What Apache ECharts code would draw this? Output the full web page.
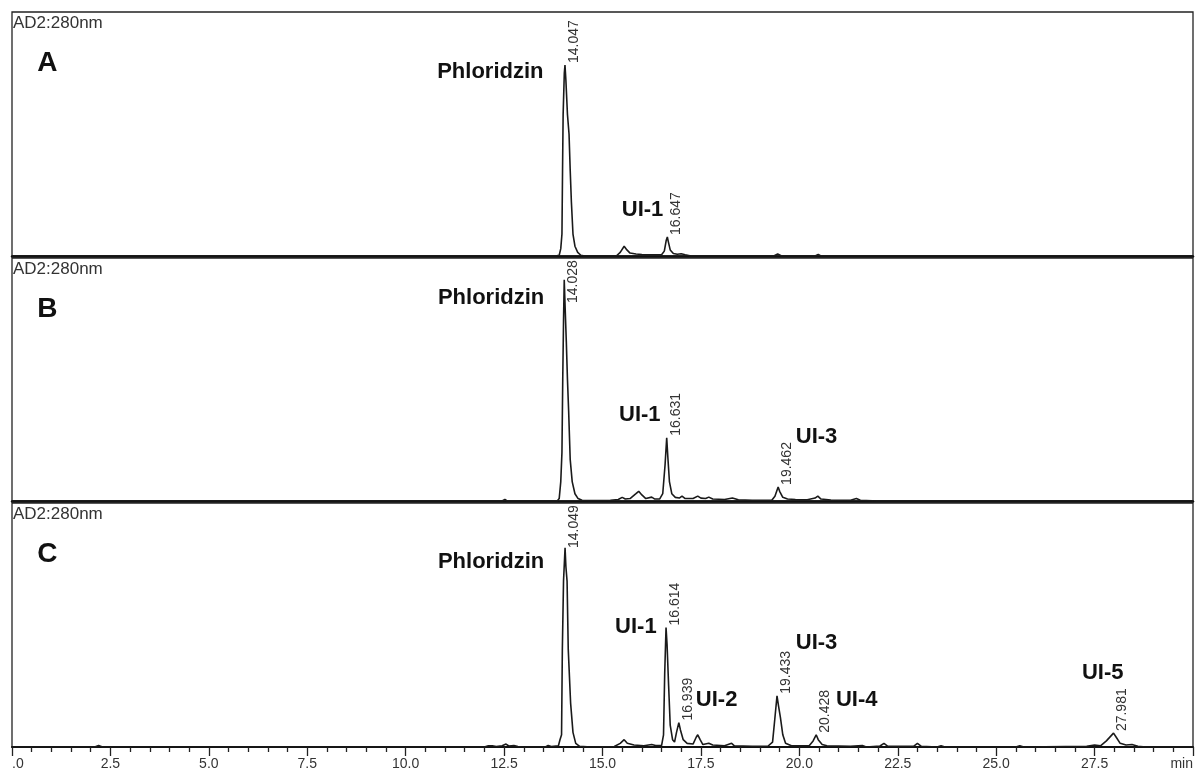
<!DOCTYPE html>
<html>
<head>
<meta charset="utf-8">
<script src="https://cdn.jsdelivr.net/npm/echarts@6/dist/echarts.min.js"></script>
<style>
html,body{margin:0;padding:0;background:#fff;}
#chart{width:1197px;height:777px;}
</style>
</head>
<body>
<div id="chart"></div>
<script>
// ---------- DATA (time in min, relative absorbance 0-100 per panel) ----------
const traceA = [[0,0],[13.80,0],[13.90,0.3],[13.94,3],[13.97,9],[13.985,35],[14.0,58],[14.03,75],[14.047,78.3],[14.07,72],[14.11,58],[14.15,50],[14.18,35],[14.21,22],[14.25,9],[14.30,4],[14.37,1.5],[14.45,0.3],[14.55,0],
[15.35,0],[15.45,1.5],[15.55,4],[15.62,2.5],[15.70,1.2],[15.85,0.8],[16.0,0.6],[16.2,0.5],[16.5,0.5],[16.57,2],[16.62,6.5],[16.647,7.8],[16.67,6],[16.72,2.5],[16.80,1],[16.90,0.7],[17.0,0.9],[17.1,0.5],[17.25,0],
[19.35,0],[19.45,0.8],[19.55,0],[20.40,0],[20.48,0.6],[20.55,0],[30,0]];

const traceB = [[0,0],[12.45,0],[12.52,0.6],[12.58,0],[13.85,0],[13.90,1],[13.94,8],[13.97,20],[13.99,50],[14.01,74],[14.028,91],[14.05,80],[14.08,66],[14.11,50],[14.14,37],[14.18,17],[14.23,8],[14.30,3],[14.38,1],[14.48,0.3],[14.6,0.2],
[15.2,0.3],[15.4,0.6],[15.5,1.5],[15.58,0.8],[15.7,1],[15.85,3],[15.92,4],[16.0,2.5],[16.1,1],[16.25,1.6],[16.33,0.8],[16.45,0.8],[16.53,3],[16.59,15],[16.631,26],[16.66,18],[16.70,8],[16.76,3],[16.85,1.5],[16.95,1.2],[17.02,2],[17.1,1],[17.3,1],[17.42,2],[17.5,1.2],[17.62,1],[17.7,1.6],[17.8,0.8],[18.1,0.6],[18.3,1.2],[18.45,0.5],[18.8,0.3],
[19.3,0.3],[19.38,2],[19.462,5.8],[19.5,4],[19.58,1.5],[19.7,0.8],[19.9,0.6],[20.2,0.5],[20.4,1.2],[20.47,2],[20.55,0.8],[20.8,0.4],[21.3,0.3],[21.45,1],[21.55,0.3],[22,0],[30,0]];

const traceC = [[0,0],[2.1,0],[2.2,0.6],[2.3,0],[12.0,0],[12.1,0.5],[12.2,0.5],[12.3,0.2],[12.45,0.5],[12.55,1.2],[12.62,0.4],[12.75,0.6],[12.85,0.2],[13.0,0],[13.55,0],[13.62,0.6],[13.7,0.2],[13.88,0.5],[13.92,3],[13.96,5],[13.98,40],[14.01,68],[14.049,81.6],[14.07,74],[14.10,68],[14.13,40],[14.19,18],[14.25,6],[14.32,1.5],[14.42,0.3],[14.7,0],
[15.3,0.2],[15.45,1.5],[15.55,3],[15.63,1.5],[15.8,0.8],[16.05,0.5],[16.25,1],[16.35,0.6],[16.5,0.6],[16.55,5],[16.58,30],[16.614,49],[16.64,42],[16.68,25],[16.72,9],[16.78,3],[16.83,2],[16.88,6],[16.939,10],[16.98,7],[17.05,3],[17.15,1.5],[17.3,1.2],[17.38,4],[17.42,5],[17.48,3],[17.55,1],[17.7,1.5],[17.8,0.8],[18.1,0.5],[18.28,1.5],[18.35,0.5],[18.8,0.3],
[19.2,0.3],[19.32,2],[19.38,12],[19.433,21],[19.47,17],[19.52,12],[19.58,5],[19.65,1.5],[19.8,0.5],[20.25,0.5],[20.35,2.5],[20.428,5],[20.48,3],[20.58,1],[20.7,0.5],[21.3,0.3],[21.6,0.6],[21.7,0],[22.05,0.4],[22.15,1.5],[22.25,0.3],[22.9,0.3],[23.0,1.5],[23.1,0.3],[23.5,0],[23.6,0.5],[23.7,0],[25.5,0],[25.6,0.5],[25.7,0],
[27.3,0.3],[27.5,0.8],[27.65,0.5],[27.8,2.5],[27.981,5.7],[28.05,4],[28.15,1.5],[28.3,0.8],[28.45,1],[28.6,0.3],[28.8,0],[30,0]];

// retention-time labels: [time, peak value, text]
const retA = [[14.047,78.3,'14.047'],[16.647,7.8,'16.647']];
const retB = [[14.028,91,'14.028'],[16.631,26,'16.631'],[19.462,5.8,'19.462']];
const retC = [[14.049,81.6,'14.049'],[16.614,49,'16.614'],[16.939,10,'16.939'],[19.433,21,'19.433'],[20.428,5,'20.428'],[27.981,5.7,'27.981']];

// compound names: [time, value, text] (left / middle anchor)
const namesA = [[10.80,75.4,'Phloridzin'],[15.49,18.9,'UI-1']];
const namesB = [[10.82,83.5,'Phloridzin'],[15.42,35.4,'UI-1'],[19.91,26.3,'UI-3']];
const namesC = [[10.82,75.8,'Phloridzin'],[15.32,49.2,'UI-1'],[17.37,19.3,'UI-2'],[19.91,42.6,'UI-3'],[20.93,19.3,'UI-4'],[27.18,30.3,'UI-5']];

const panelLetters = ['A','B','C'];
const detectorLabel = 'AD2:280nm';
const xTickLabels = ['.0','2.5','5.0','7.5','10.0','12.5','15.0','17.5','20.0','22.5','25.0','27.5','min'];

// ---------- CHART ----------
const FONT = '"Liberation Sans", Arial, sans-serif';
const grids = [
  {left:12, right:4, top:12, height:244},
  {left:12, right:4, top:258, height:243},
  {left:12, right:4, top:503, height:244}
];
const traces = [traceA, traceB, traceC];
const rets = [retA, retB, retC];
const names = [namesA, namesB, namesC];

const chart = echarts.init(document.getElementById('chart'), null, {renderer:'canvas'});

const option = {
  animation:false,
  backgroundColor:'#fff',
  grid: grids.map(g => Object.assign({show:true, borderColor:'#222', borderWidth:1.3, backgroundColor:'#fff'}, g)),
  xAxis: grids.map((g,i) => ({
    type:'value', gridIndex:i, min:0, max:30, interval:2.5,
    axisLine:{show:true, onZero:false, lineStyle:{color:'#111', width: i<2 ? 2.5 : 2}},
    axisTick:{show:i===2, length:9, lineStyle:{color:'#222', width:1.3}},
    minorTick:{show:i===2, splitNumber:5, length:5, lineStyle:{color:'#222', width:1.3}},
    splitLine:{show:false},
    axisLabel:{show:i===2, margin:10, color:'#333', fontFamily:FONT, fontSize:14,
      alignMinLabel:'left', alignMaxLabel:'right',
      formatter: v => xTickLabels[Math.round(v/2.5)]}
  })),
  yAxis: grids.map((g,i) => ({
    type:'value', gridIndex:i, min:0, max:100,
    axisLine:{show:false}, axisTick:{show:false}, axisLabel:{show:false}, splitLine:{show:false}
  })),
  series: traces.map((d,i) => ({
    type:'line', xAxisIndex:i, yAxisIndex:i, data:d, showSymbol:false, symbol:'none',
    lineStyle:{color:'#1a1a1a', width:1.6}, silent:true
  }))
};
chart.setOption(option);

// annotations positioned through the axes
const gfx = [];
grids.forEach((g,i) => {
  gfx.push({type:'text', x:g.left+1, y:g.top+3, silent:true,
    style:{text:detectorLabel, font:'17px '+FONT, fill:'#333', align:'left', verticalAlign:'top'}});
  const lp = chart.convertToPixel({gridIndex:i}, [0.64, 79]);
  gfx.push({type:'text', x:lp[0], y:lp[1], silent:true,
    style:{text:panelLetters[i], font:'bold 28px '+FONT, fill:'#111', align:'left', verticalAlign:'middle'}});
  names[i].forEach(n => {
    const p = chart.convertToPixel({gridIndex:i}, [n[0], n[1]]);
    gfx.push({type:'text', x:p[0], y:p[1], silent:true,
      style:{text:n[2], font:'bold 22px '+FONT, fill:'#111', align:'left', verticalAlign:'middle'}});
  });
  rets[i].forEach(r => {
    const p = chart.convertToPixel({gridIndex:i}, [r[0], r[1]]);
    const y = Math.max(p[1]-2, g.top+45);
    gfx.push({type:'text', x:p[0]+9, y:y, rotation:Math.PI/2, silent:true,
      style:{text:r[2], font:'14px '+FONT, fill:'#333', align:'left', verticalAlign:'middle'}});
  });
});
chart.setOption({graphic:{elements:gfx}});
</script>
</body>
</html>
